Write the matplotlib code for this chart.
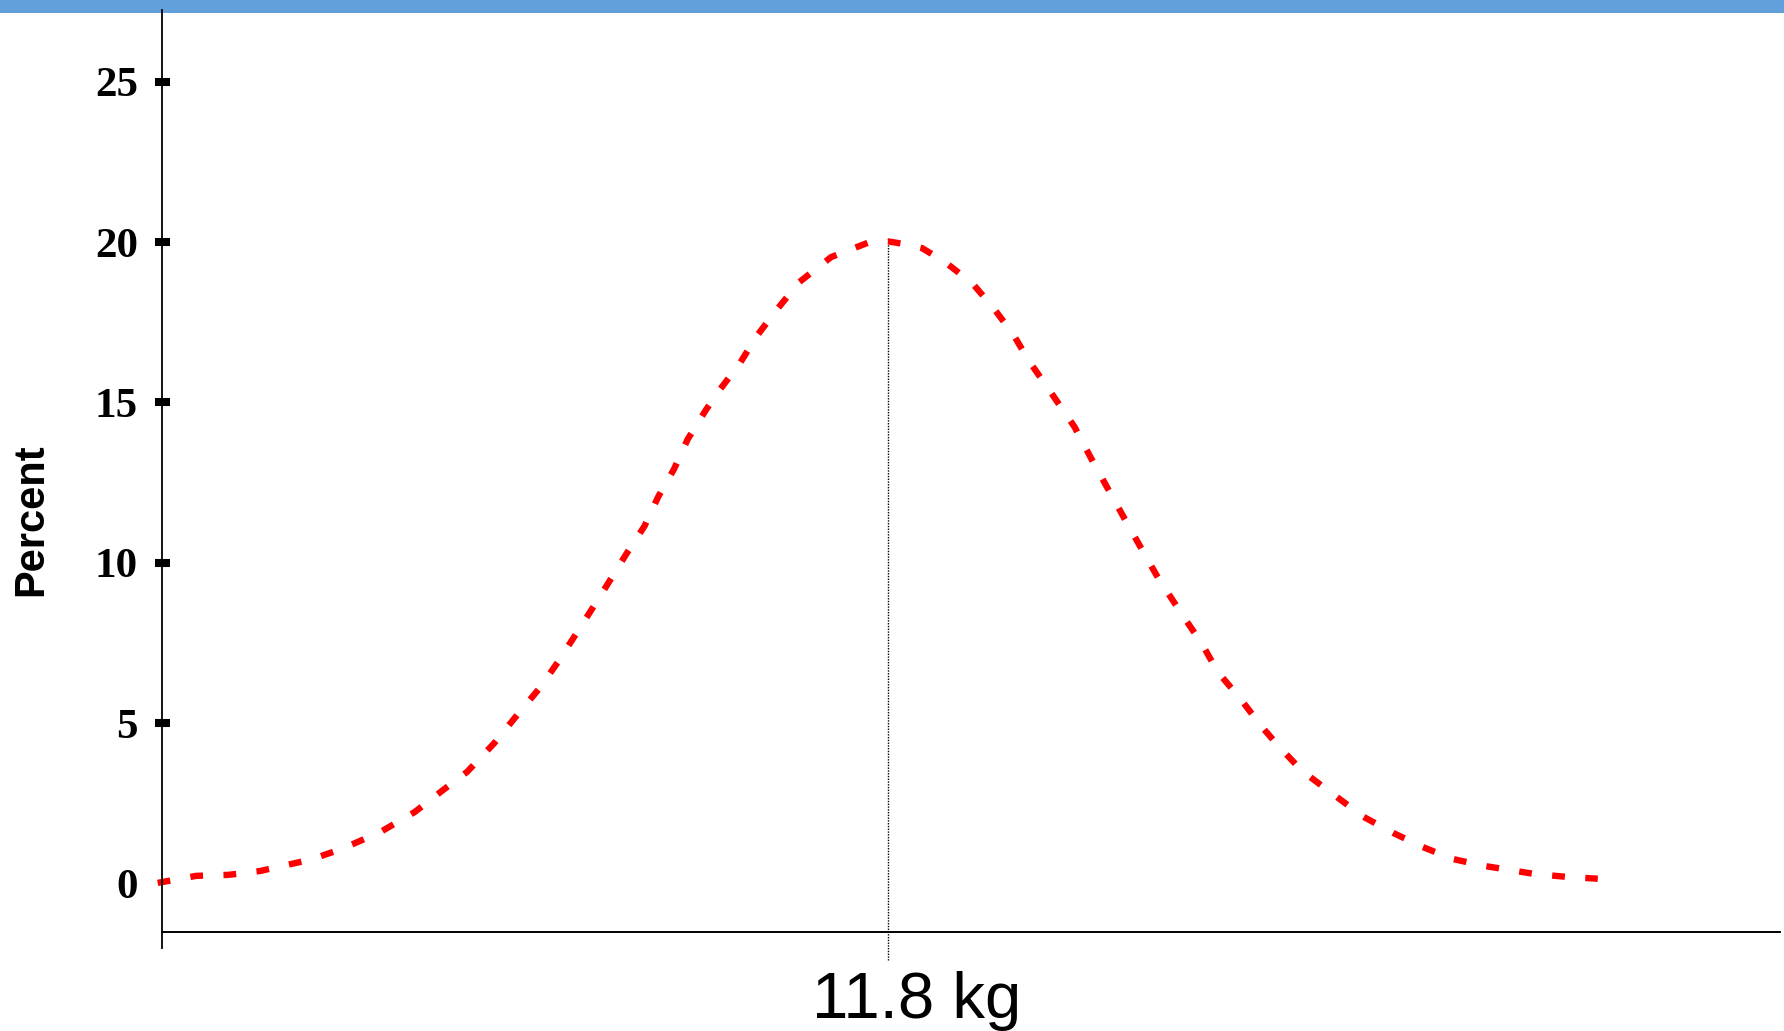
import matplotlib
matplotlib.use("Agg")
import matplotlib.pyplot as plt
from matplotlib.patches import Rectangle

# curve: weight (kg) vs percent
weight_kg = [8.59, 8.76, 8.90, 9.04, 9.12, 9.26, 9.40, 9.57, 9.72, 9.84,
             9.95, 10.07, 10.17, 10.27, 10.35, 10.44, 10.53, 10.65, 10.73, 10.79,
             10.86, 10.92, 11.00, 11.06, 11.15, 11.22, 11.31, 11.41, 11.55, 11.72,
             11.80, 11.87, 11.95, 12.05, 12.17, 12.26, 12.35, 12.42, 12.50, 12.62,
             12.69, 12.77, 12.85, 12.92, 12.99, 13.10, 13.18, 13.25, 13.35, 13.44,
             13.52, 13.62, 13.75, 13.89, 14.02, 14.15, 14.28, 14.42, 14.50, 14.64,
             14.78, 14.92]
percent = [0.03, 0.25, 0.28, 0.40, 0.53, 0.75, 1.09, 1.62, 2.24, 2.90,
           3.49, 4.39, 5.26, 6.11, 6.92, 7.91, 8.91, 10.28, 11.15, 12.06,
           12.93, 13.86, 14.77, 15.39, 16.23, 17.04, 17.88, 18.75, 19.53, 20.00,
           20.02, 19.94, 19.81, 19.38, 18.72, 17.98, 17.13, 16.29, 15.48, 14.24,
           13.30, 12.27, 11.25, 10.37, 9.50, 8.32, 7.48, 6.60, 5.76, 4.92,
           4.27, 3.52, 2.83, 2.09, 1.59, 1.15, 0.78, 0.56, 0.47, 0.31,
           0.22, 0.16]

mean_kg = 11.8
mean_pct = 20.0
y_ticks = [0, 5, 10, 15, 20, 25]
mean_label = "11.8 kg"

W, H = 1784, 1031
fig = plt.figure(figsize=(W / 100, H / 100), dpi=100)

# blue band along the top edge
fig.patches.append(Rectangle((0, 1 - 13 / H), 1, 13 / H, transform=fig.transFigure,
                             facecolor="#62a0db", edgecolor="none", zorder=-1))

ax = fig.add_axes([162 / W, (H - 932) / H, (1780 - 162) / W, 922 / H])
ax.patch.set_visible(False)

x_lo, x_hi = 8.609, 15.721
ax.set_xlim(x_lo, x_hi)
ax.set_ylim(-1.5, 27.23)

ax.plot(weight_kg, percent, color="red", linewidth=4.6, dashes=(2.0, 3.2),
        dash_capstyle="butt", clip_on=False, zorder=3)

# mean marker line
ax.plot([mean_kg, mean_kg], [mean_pct, -2.37], color="black", linewidth=1.0,
        linestyle=(0, (1, 1)), clip_on=False, zorder=2)

for s in ("top", "right", "left"):
    ax.spines[s].set_visible(False)
ax.spines["bottom"].set_linewidth(1.4)
ax.plot([x_lo, x_lo], [-2.0, 27.23], color="black", linewidth=1.3,
        clip_on=False, zorder=4)

ax.set_xticks([])
ax.set_yticks(y_ticks)
ax.set_yticklabels([str(v) for v in y_ticks], fontfamily="Liberation Serif",
                   fontweight="bold", fontsize=31)
ax.tick_params(axis="y", direction="inout", length=10.8, width=5.8, pad=12,
               color="black")
ax.yaxis.get_major_ticks()[0].tick1line.set_visible(False)

fig.text(31 / W, 1 - 520 / H, "Percent", rotation=90, ha="center", va="center",
         fontfamily="Liberation Sans", fontweight="bold", fontsize=30)
fig.text(917 / W, 1 - 1018 / H, mean_label, ha="center", va="baseline",
         fontfamily="Liberation Sans", fontsize=47)

fig.savefig("out.png", dpi=100, facecolor="white")
